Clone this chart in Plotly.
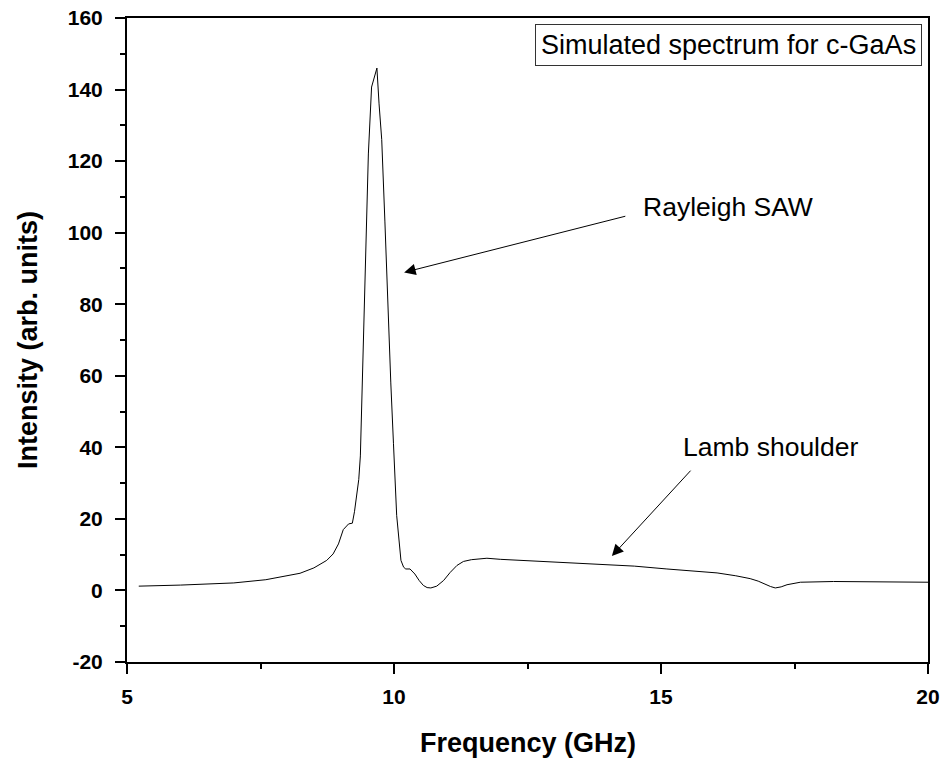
import plotly.graph_objects as go

freq = [5.22, 6.0, 7.0, 7.6, 8.24, 8.5, 8.74, 8.86, 8.96, 9.05, 9.15, 9.22, 9.26, 9.30,
        9.34, 9.37, 9.40, 9.44, 9.48, 9.52, 9.58, 9.68, 9.72, 9.77, 9.83, 9.89, 9.94,
        9.99, 10.05, 10.13, 10.18, 10.22, 10.30, 10.39, 10.47, 10.55, 10.62, 10.69,
        10.80, 10.93, 11.05, 11.18, 11.30, 11.45, 11.74, 11.99, 12.5, 13.0, 13.86,
        14.5, 15.11, 15.6, 16.05, 16.4, 16.67, 16.82, 16.92, 17.05, 17.14, 17.25,
        17.36, 17.5, 17.61, 18.23, 19.0, 20.0]
intensity = [1.2, 1.5, 2.1, 3.0, 4.8, 6.3, 8.4, 10.2, 13.0, 17.0, 18.6, 18.8, 22.0, 26.5,
             31.0, 37.6, 55.0, 77.0, 94.0, 122.0, 140.7, 146.0, 136.0, 126.0, 103.0, 77.0,
             58.0, 41.0, 21.0, 8.4, 6.5, 6.0, 6.0, 4.6, 2.8, 1.4, 0.8, 0.7,
             1.2, 2.8, 5.0, 7.0, 8.1, 8.6, 9.0, 8.7, 8.3, 8.0, 7.4,
             6.8, 6.0, 5.5, 4.9, 4.1, 3.3, 2.6, 1.9, 1.1, 0.7, 1.0,
             1.6, 2.1, 2.3, 2.5, 2.5, 2.3]

x_ticks = [5, 10, 15, 20]
y_ticks = [-20, 0, 20, 40, 60, 80, 100, 120, 140, 160]
y_tick_labels = ["-20", "0", "20", "40", "60", "80", "100", "120", "140", "160"]

# arrows: (tip x, tip y, tail x, tail y)
rayleigh_arrow = (10.19, 88.9, 14.36, 104.7)
lamb_arrow = (14.08, 9.6, 15.58, 33.9)
rayleigh_text = ("Rayleigh SAW", 16.26, 107.3)
lamb_text = ("Lamb shoulder", 17.05, 40.0)
box_text = "Simulated spectrum for c-GaAs"

FONT = "Arial, Liberation Sans, sans-serif"

fig = go.Figure()
fig.add_trace(go.Scatter(x=freq, y=intensity, mode="lines",
                         line=dict(color="black", width=1), showlegend=False,
                         hoverinfo="skip"))

axis_common = dict(showline=True, linecolor="black", linewidth=2, mirror=True,
                   ticks="outside", ticklen=10, tickwidth=2, tickcolor="black",
                   showgrid=False, zeroline=False, automargin=False,
                   tickfont=dict(family=FONT, size=21, color="black", weight="bold"))

fig.update_xaxes(range=[5, 20], tickvals=x_ticks, ticklabelstandoff=5,
                 minor=dict(dtick=2.5, tick0=5, ticks="outside", ticklen=5,
                            tickwidth=2, tickcolor="black", showgrid=False),
                 **axis_common)
fig.update_yaxes(range=[-20, 160], tickvals=y_ticks, ticktext=y_tick_labels,
                 ticklabelstandoff=8,
                 minor=dict(dtick=10, tick0=0, ticks="outside", ticklen=5,
                            tickwidth=2, tickcolor="black", showgrid=False),
                 **axis_common)

anns = []
for (tx, ty, ax, ay) in (rayleigh_arrow, lamb_arrow):
    anns.append(dict(x=tx, y=ty, ax=ax, ay=ay, xref="x", yref="y", axref="x", ayref="y",
                     text="", showarrow=True, arrowhead=2, arrowsize=2.3,
                     arrowwidth=1, arrowcolor="black"))
for (t, x, y) in (rayleigh_text, lamb_text):
    anns.append(dict(x=x, y=y, xref="x", yref="y", text=t, showarrow=False,
                     xanchor="center", yanchor="middle",
                     font=dict(family=FONT, size=26.5, color="black")))
anns.append(dict(x=0.9925, y=0.9907, xref="paper", yref="paper", text=box_text,
                 showarrow=False, xanchor="right", yanchor="top",
                 bordercolor="#333333", borderwidth=1, borderpad=5, bgcolor="white",
                 font=dict(family=FONT, size=27, color="black")))
anns.append(dict(x=-0.1236, y=0.5, xref="paper", yref="paper", text="Intensity (arb. units)",
                 showarrow=False, textangle=-90, xanchor="center", yanchor="middle",
                 font=dict(family=FONT, size=27, color="black", weight="bold")))
anns.append(dict(x=0.5, y=-0.1258, xref="paper", yref="paper", text="Frequency (GHz)",
                 showarrow=False, xanchor="center", yanchor="middle",
                 font=dict(family=FONT, size=27, color="black", weight="bold")))

fig.update_layout(width=942, height=762, margin=dict(l=127, r=14, t=18, b=100),
                  plot_bgcolor="white", paper_bgcolor="white", annotations=anns)

fig.write_html("out.html", config={"displayModeBar": False},
               post_script="document.body.style.margin='0';document.body.style.overflow='hidden';")
